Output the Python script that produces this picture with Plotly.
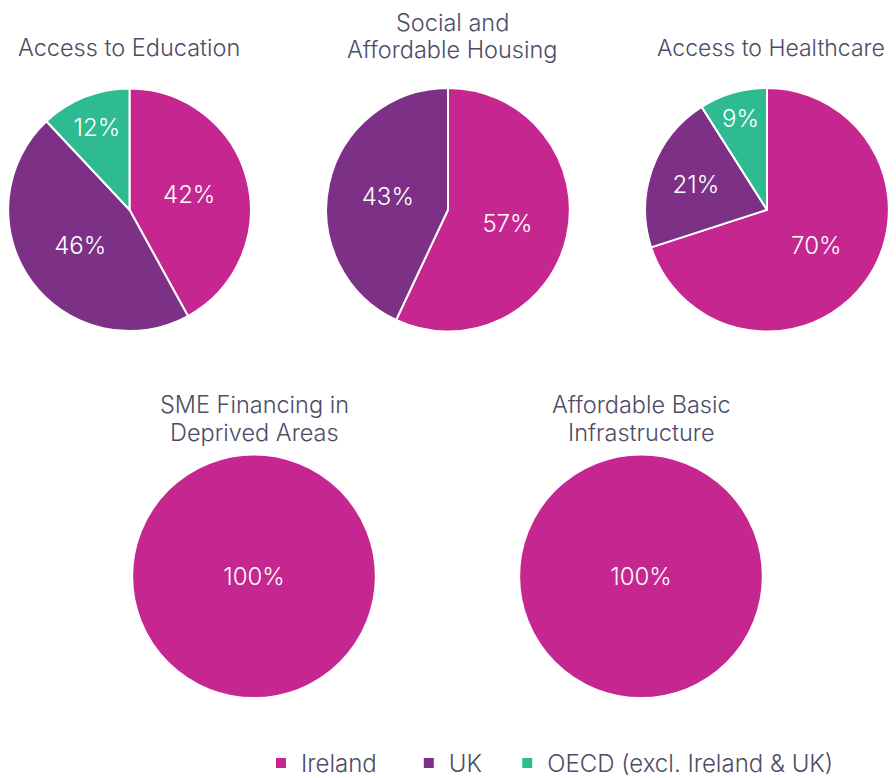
import plotly.graph_objects as go

W, H = 896, 778
OFF = 8  # browser body margin

labels = ["Ireland", "UK", "OECD (excl. Ireland & UK)"]
colors = ["#C6268F", "#7D3186", "#2EBB92"]
color_map = dict(zip(labels, colors))
# legend spacing padding (non-breaking spaces) after each label
pad = {"Ireland": 4, "UK": 3, "OECD (excl. Ireland & UK)": 0}

titles = ["Access to Education", "Social and<br>Affordable Housing", "Access to Healthcare",
          "SME Financing in<br>Deprived Areas", "Affordable Basic<br>Infrastructure"]
edu = [42, 46, 12]
housing = [57, 43, 0]
health = [70, 21, 9]
sme = [100, 0, 0]
infra = [100, 0, 0]
series = [edu, housing, health, sme, infra]

# pixel boxes (left, top, size) for each pie in the window
boxes = [(8, 88.5, 243), (326, 88, 244), (645, 88, 244), (132, 455, 244), (519, 455, 244)]
title_y = [48, 23, 48, 405, 405]   # first line centre
line_gap = [0, 27, 0, 28, 28]
title_x = [129, 452, 771, 254, 641]
title_size = [23.5, 23.5, 23, 23.5, 23.5]

fig = go.Figure()
for i, (vals, (l, t, s)) in enumerate(zip(series, boxes)):
    labs = [lb for lb, v in zip(labels, vals) if v > 0] if i > 0 else labels
    vs = [v for v in vals if v > 0] if i > 0 else vals
    l, t = max(0, l - OFF), t - OFF
    fig.add_trace(go.Pie(
        labels=[lb + "\u00a0" * pad[lb] for lb in labs], values=vs,
        marker=dict(colors=[color_map[lb] for lb in labs], line=dict(color="white", width=2)),
        sort=False, direction="clockwise", rotation=0,
        texttemplate="%{value}%",
        textposition="inside", insidetextorientation="horizontal",
        textfont=dict(color="white", size=24, family="Inter", weight=300),
        showlegend=(i == 0), hoverinfo="label+value",
        domain=dict(x=[l / W, min(1, (l + s) / W)], y=[1 - (t + s) / H, 1 - t / H]),
    ))
    for j, line in enumerate(titles[i].split("<br>")):
        fig.add_annotation(text=line, x=(title_x[i] - OFF) / W,
                           y=1 - (title_y[i] + j * line_gap[i] - OFF) / H,
                           xref="paper", yref="paper", showarrow=False,
                           xanchor="center", yanchor="middle",
                           font=dict(size=title_size[i], color="#4D4C66", family="Inter", weight=300))

fig.update_layout(
    width=W, height=H, margin=dict(l=0, r=0, t=0, b=0),
    paper_bgcolor="white", plot_bgcolor="white",
    legend=dict(orientation="h", x=(261 - OFF) / W, y=-1 / H,
                xanchor="left", yanchor="bottom",
                font=dict(size=24, color="#4D4C66", family="Inter", weight=300),
                traceorder="normal"),
)
fig.write_html("out.html", config={"displayModeBar": False})
